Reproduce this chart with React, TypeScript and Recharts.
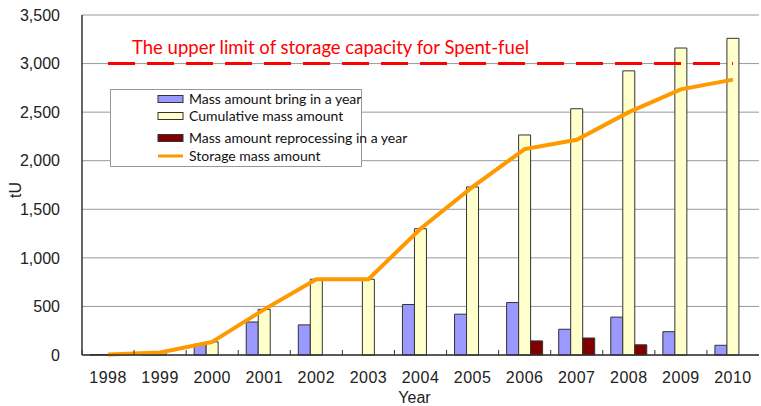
import React from "react";
import {
  ComposedChart,
  Bar,
  Line,
  XAxis,
  YAxis,
  CartesianGrid,
  Legend,
  ReferenceLine,
} from "recharts";

const years = ["1998", "1999", "2000", "2001", "2002", "2003", "2004", "2005", "2006", "2007", "2008", "2009", "2010"];
const bringIn = [5, 20, 110, 340, 310, 0, 520, 420, 540, 265, 390, 240, 100];
const cumulative = [5, 25, 135, 470, 780, 780, 1300, 1730, 2265, 2535, 2925, 3160, 3260];
const reprocessing = [0, 0, 0, 0, 0, 0, 0, 0, 145, 175, 105, 0, 0];
const storage = [5, 25, 135, 470, 780, 780, 1300, 1730, 2120, 2215, 2500, 2735, 2835];
const yTicks = [0, 500, 1000, 1500, 2000, 2500, 3000, 3500];
const upperLimit = 3000;

const legendItems = [
  { label: "Mass amount bring in a year", color: "#9999FF", type: "bar" },
  { label: "Cumulative mass amount", color: "#FFFFCC", type: "bar" },
  { label: "Mass amount reprocessing in a year", color: "#800000", type: "bar" },
  { label: "Storage mass amount", color: "#FF9900", type: "line" },
];
const legendRowY = [10, 27, 49, 67];

const data = years.map((year, i) => ({
  year,
  bringIn: bringIn[i],
  cumulative: cumulative[i],
  reprocessing: reprocessing[i],
  storage: storage[i],
}));

const TICK_FONT = "'Liberation Sans', Arial, sans-serif";
const LABEL_FONT = "Lato, 'Open Sans', sans-serif";

// year labels plus the little marks between categories
function YearTick(props: any) {
  const { x, y, payload } = props;
  const axisY = y;
  const half = payload.offset || 0;
  return (
    <g>
      <line x1={x - half} x2={x - half} y1={axisY} y2={axisY - 5} stroke="#333" strokeWidth={1} />
      <text
        x={x}
        y={axisY + 22}
        dy="0.35em"
        textAnchor="middle"
        fontFamily={TICK_FONT}
        fontSize={16}
        letterSpacing={0.5}
        fill="#222"
      >
        {payload.value}
      </text>
    </g>
  );
}

function LegendBox() {
  return (
    <svg width={320} height={78} style={{ display: "block", overflow: "visible" }}>
      <rect x={0.5} y={0.5} width={251} height={77} fill="#fff" stroke="#999" />
      {legendItems.map((it, i) => (
        <g key={it.label}>
          {it.type === "bar" ? (
            <rect x={48} y={legendRowY[i] - 3.5} width={25} height={7} fill={it.color} stroke="#333" />
          ) : (
            <line x1={48} x2={73} y1={legendRowY[i]} y2={legendRowY[i]} stroke={it.color} strokeWidth={3} />
          )}
          <text
            x={79}
            y={legendRowY[i]}
            dy="0.35em"
            fontFamily={LABEL_FONT}
            fontSize={14}
            fill="#111"
          >
            {it.label}
          </text>
        </g>
      ))}
    </svg>
  );
}

function LimitLabel(props: any) {
  const { viewBox } = props;
  return (
    <text
      x={viewBox.x + 24}
      y={viewBox.y - 16}
      dy="0.35em"
      fontFamily={LABEL_FONT}
      fontSize={18.5}
      fill="#FF0000"
    >
      The upper limit of storage capacity for Spent-fuel
    </text>
  );
}

export default function App() {
  return (
    <div style={{ position: "absolute", left: 0, top: 0, width: 761, height: 406, background: "#fff" }}>
      <ComposedChart
        width={761}
        height={406}
        data={data}
        margin={{ top: 15, right: 2, bottom: 0, left: 0 }}
        barCategoryGap={8}
        barGap={0}
      >
        <CartesianGrid vertical={false} stroke="#999" />
        <XAxis
          dataKey="year"
          height={51}
          tickLine={false}
          tickSize={0}
          tickMargin={0}
          tick={<YearTick />}
          axisLine={{ stroke: "#333", strokeWidth: 1.5 }}
          interval={0}
          label={{ value: "Year", position: "insideBottom", offset: 3, dx: -6, fontFamily: TICK_FONT, fontSize: 16, fill: "#222" }}
        />
        <XAxis xAxisId="top" dataKey="year" orientation="top" height={0} tick={false} tickLine={false} axisLine={{ stroke: "#777", strokeWidth: 2 }} />
        <YAxis
          width={82}
          domain={[0, 3500]}
          ticks={yTicks}
          tickLine={false}
          tickSize={0}
          tickMargin={22}
          axisLine={{ stroke: "#333", strokeWidth: 1.5 }}
          tickFormatter={(v: number) => v.toLocaleString("en-US")}
          tick={{ fontFamily: TICK_FONT, fontSize: 16, fill: "#222" }}
          label={{ value: "tU", angle: -90, position: "center", dx: -26, dy: 5, fontFamily: TICK_FONT, fontSize: 16, fill: "#222" }}
        />
        <YAxis yAxisId="right" orientation="right" width={0} domain={[0, 3500]} tick={false} tickLine={false} axisLine={{ stroke: "#777", strokeWidth: 2 }} />
        <Legend
          layout="vertical"
          align="center"
          verticalAlign="middle"
          content={<LegendBox />}
          wrapperStyle={{ position: "absolute", left: 110, top: 89, width: 320, height: 78 }}
        />
        <Bar dataKey="bringIn" name="Mass amount bring in a year" fill="#9999FF" stroke="#333" strokeWidth={1} isAnimationActive={false} />
        <Bar dataKey="cumulative" name="Cumulative mass amount" fill="#FFFFCC" stroke="#333" strokeWidth={1} isAnimationActive={false} />
        <Bar dataKey="reprocessing" name="Mass amount reprocessing in a year" fill="#800000" stroke="#333" strokeWidth={1} isAnimationActive={false} />
        <ReferenceLine
          segment={[{ x: years[0], y: upperLimit }, { x: years[years.length - 1], y: upperLimit }]}
          stroke="#FF0000"
          strokeWidth={3}
          strokeDasharray="27 12"
          label={<LimitLabel />}
        />
        <Line
          type="linear"
          dataKey="storage"
          name="Storage mass amount"
          stroke="#FF9900"
          strokeWidth={4}
          dot={false}
          isAnimationActive={false}
        />
      </ComposedChart>
    </div>
  );
}
